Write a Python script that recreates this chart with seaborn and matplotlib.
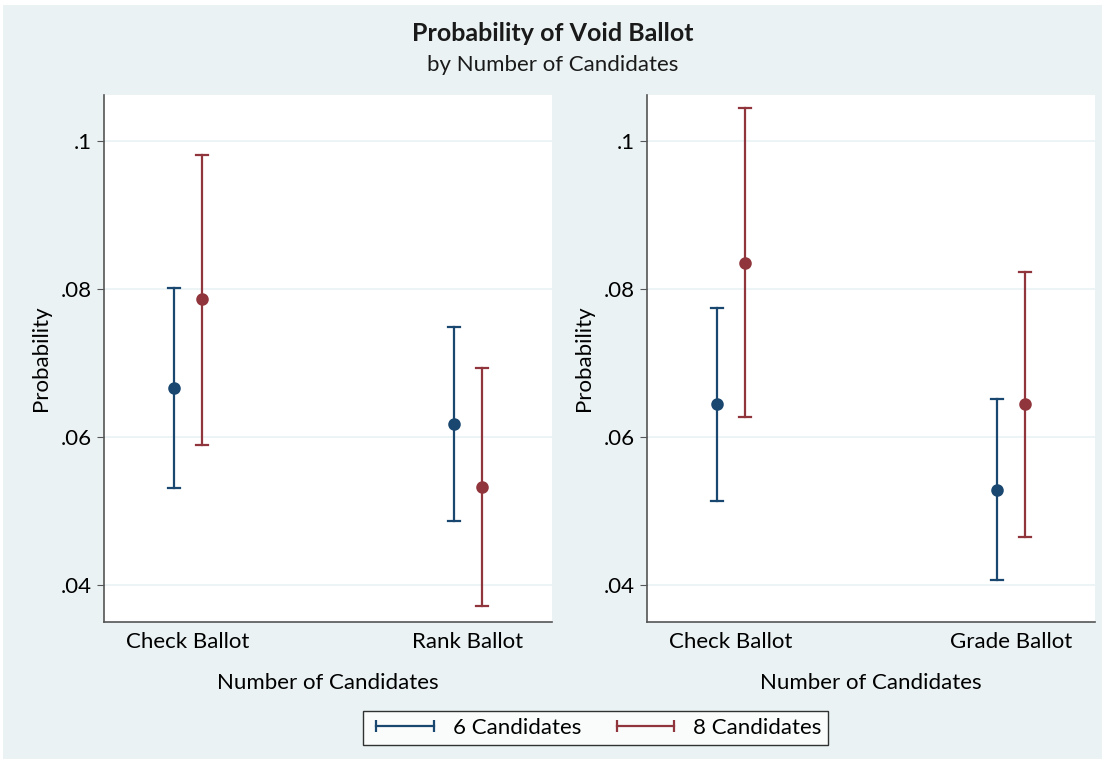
import seaborn as sns
import matplotlib.pyplot as plt
import pandas as pd
from matplotlib.lines import Line2D
from matplotlib.patches import Rectangle

# values: estimate with lower / upper bounds
left_cats = ["Check Ballot", "Rank Ballot"]
left_6_est = [0.0666, 0.0618]
left_6_lo = [0.0531, 0.0486]
left_6_hi = [0.0801, 0.0749]
left_8_est = [0.0786, 0.0532]
left_8_lo = [0.0589, 0.0372]
left_8_hi = [0.0981, 0.0693]

right_cats = ["Check Ballot", "Grade Ballot"]
right_6_est = [0.0645, 0.0528]
right_6_lo = [0.0514, 0.0407]
right_6_hi = [0.0774, 0.0651]
right_8_est = [0.0835, 0.0645]
right_8_lo = [0.0627, 0.0465]
right_8_hi = [0.1045, 0.0823]

groups = ["6 Candidates", "8 Candidates"]
yticks = [0.04, 0.06, 0.08, 0.1]
ytick_labels = [".04", ".06", ".08", ".1"]

navy = "#1A476F"
maroon = "#90353B"
bg = "#EAF2F3"


def make_df(cats, est6, lo6, hi6, est8, lo8, hi8):
    # three rows per group: median gives estimate, min/max give interval
    rows = []
    for i, c in enumerate(cats):
        for g, e, l, h in [(groups[0], est6, lo6, hi6), (groups[1], est8, lo8, hi8)]:
            for v in (l[i], e[i], h[i]):
                rows.append({"ballot": c, "group": g, "prob": v})
    return pd.DataFrame(rows)


df_left = make_df(left_cats, left_6_est, left_6_lo, left_6_hi, left_8_est, left_8_lo, left_8_hi)
df_right = make_df(right_cats, right_6_est, right_6_lo, right_6_hi, right_8_est, right_8_lo, right_8_hi)

plt.rcParams["font.family"] = ["Lato", "DejaVu Sans"]

fig = plt.figure(figsize=(11.05, 7.62), dpi=100, facecolor="white")
fig.patches.append(Rectangle((0.003, 0.004), 0.994, 0.99, transform=fig.transFigure,
                             facecolor=bg, edgecolor="none", zorder=-1))

ax1 = fig.add_axes([0.0941, 0.1837, 0.4054, 0.6916])
ax2 = fig.add_axes([0.5855, 0.1837, 0.4054, 0.6916])

fs = 16
for ax, df, cats in [(ax1, df_left, left_cats), (ax2, df_right, right_cats)]:
    sns.pointplot(data=df, x="ballot", y="prob", hue="group", order=cats, hue_order=groups,
                  estimator="median", errorbar=("pi", 100), dodge=0.1, capsize=0.04,
                  palette=[navy, maroon], linestyle="none", markers="o", markersize=7,
                  err_kws={"linewidth": 1.6}, ax=ax, legend=False)
    ax.set_facecolor("white")
    ax.set_xlim(-0.3, 1.3)
    ax.set_ylim(0.035, 0.1062)
    ax.set_yticks(yticks)
    ax.set_yticklabels(ytick_labels)
    ax.grid(axis="y", color=bg, linewidth=1.2)
    ax.set_axisbelow(True)
    for s in ["top", "right"]:
        ax.spines[s].set_visible(False)
    for s in ["left", "bottom"]:
        ax.spines[s].set_color("#555555")
        ax.spines[s].set_linewidth(1.2)
    ax.tick_params(axis="y", length=5, color="#555555", labelsize=fs, pad=4)
    ax.tick_params(axis="x", length=0, labelsize=fs, pad=7)
    ax.set_xlabel("Number of Candidates", fontsize=fs, labelpad=15)
    ax.set_ylabel("Probability", fontsize=fs, labelpad=7)

fig.text(0.5, 0.956, "Probability of Void Ballot", ha="center", va="center",
         fontsize=18, fontweight="bold", color="#1a1a1a")
fig.text(0.5, 0.915, "by Number of Candidates", ha="center", va="center",
         fontsize=16, color="#1a1a1a")

handles = [Line2D([0], [0], color=navy, lw=1.6, marker="|", markersize=8, markeredgewidth=1.6),
           Line2D([0], [0], color=maroon, lw=1.6, marker="|", markersize=8, markeredgewidth=1.6)]
leg = fig.legend(handles, groups, loc="center", bbox_to_anchor=(0.539, 0.0445), ncol=2,
                 numpoints=2, fontsize=fs, frameon=True, fancybox=False, handlelength=3.2,
                 columnspacing=1.3, handletextpad=0.55, borderpad=0.3, borderaxespad=0)
leg.get_frame().set_edgecolor("black")
leg.get_frame().set_linewidth(1.0)

fig.savefig("out.png", dpi=100, facecolor=fig.get_facecolor())
